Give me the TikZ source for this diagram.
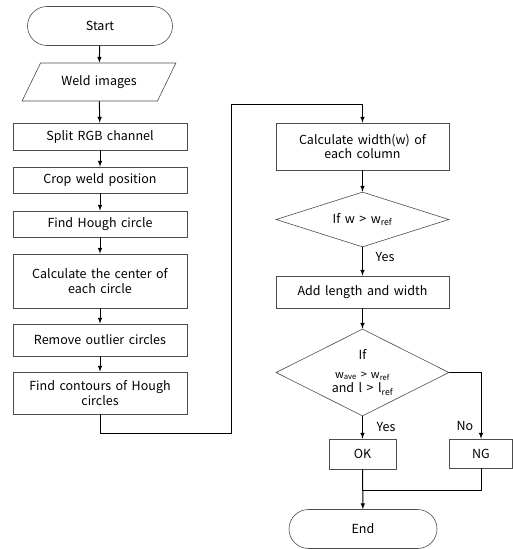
\documentclass[tikz,border=0pt]{standalone}
\usepackage{fontspec}
\setmainfont{Noto Sans CJK KR}[WordSpace=1.6]
\usetikzlibrary{shapes.geometric}
\usetikzlibrary{arrows,positioning}
\colorlet{bord}{black!70}
\newcommand\wref{w\textsubscript{ref}}

\begin{document}
\begin{tikzpicture}[x=1pt,y=-1pt,font=\fontsize{12.5}{14.5}\selectfont]%
        \useasboundingbox (0,0) rectangle (513,549);%%
        \begin{scope}[shape=rectangle,inner sep=1pt]
        \tikzstyle{every node}=[draw=bord,line width=.6pt,align=center] %%
        \node[minimum width=145,minimum height=39,rounded corners=19.5] (start) at (100,26)  {Start}; %%
        \node[trapezium,trapezium left angle=51,trapezium right angle=129,trapezium stretches=true,minimum width=154,minimum height=38] (weld) at (99,82)  {Weld images}; %%
        \node[minimum width=174,minimum height=27] (split) at (100,136.5)  {Split RGB channel}; %%
        \node[minimum width=174,minimum height=26] (crop) at (100,180)  {Crop weld position}; %%
        \node[minimum width=174,minimum height=26] (hough) at (100,224)  {Find Hough circle}; %%
        \node[minimum width=174,minimum height=54] (center) at (100,281)  {Calculate the center of\\each circle}; %%
        \node[minimum width=174,minimum height=32] (remove) at (100,340)  {Remove outlier circles}; %%
        \node[minimum width=174,minimum height=42] (contours) at (100,393)  {Find contours of Hough\\circles}; %%
        \node[minimum width=173,minimum height=47] (width) at (362.5,146.5)  {Calculate width(w) of\\each column}; %%
        \node[diamond,aspect=3,inner sep=0pt,minimum width=173,minimum height=55] (dia1) at (362.5,219.5)  {If w > \wref}; %%
        \node[minimum width=173,minimum height=32] (add) at (362.5,292)  {Add length and width}; %%
        \node[diamond,aspect=2,inner sep=0pt,minimum width=173,minimum height=87] (dia2) at (362.5,372.5)  {If\\[4pt]{\fontsize{11}{13}\selectfont w\textsubscript{ave} > \wref}\\and l > l\textsubscript{ref}}; %%
        \node[minimum width=67,minimum height=30] (ok) at (362.5,454)  {OK}; %%
        \node[minimum width=63,minimum height=29] (ng) at (481,453.5)  {NG}; %%
        \node[minimum width=148,minimum height=39,rounded corners=19.5] (endt) at (363,529)  {End}; %%
        \end{scope}
        \node (yes1) at (385,257)  {Yes}; %%
        \node (yes2) at (386,427)  {Yes}; %%
        \node (no) at (465,426)  {No}; %%
        \coordinate (c1) at (231,433); %%
        \coordinate (c2) at (231,104); %%
        \coordinate (merge) at (362.5,490); %%
\begin{scope}[line width=1pt]
\draw[->,-latex] (start)--(weld);  %%
\draw[->,-latex] (weld)--(split);  %%
\draw[->,-latex] (split)--(crop);  %%
\draw[->,-latex] (crop)--(hough);  %%
\draw[->,-latex] (hough)--(center);  %%
\draw[->,-latex] (center)--(remove);  %%
\draw[->,-latex] (remove)--(contours);  %%
\draw[->,-latex] (contours.south) |- (c1) -- (c2) -| (width.north);  %%
\draw[->,-latex] (width)--(dia1);  %%
\draw[->,-latex] (dia1)--(add);  %%
\draw[->,-latex] (add)--(dia2);  %%
\draw[->,-latex] (dia2)--(ok);  %%
\draw[->,-latex] (dia2.east) -| (ng.north);  %%
\draw[->,-latex] (ok)--(endt);  %%
\draw (ng.south) |- (merge);  %%
\end{scope}
\end{tikzpicture}
\end{document}
